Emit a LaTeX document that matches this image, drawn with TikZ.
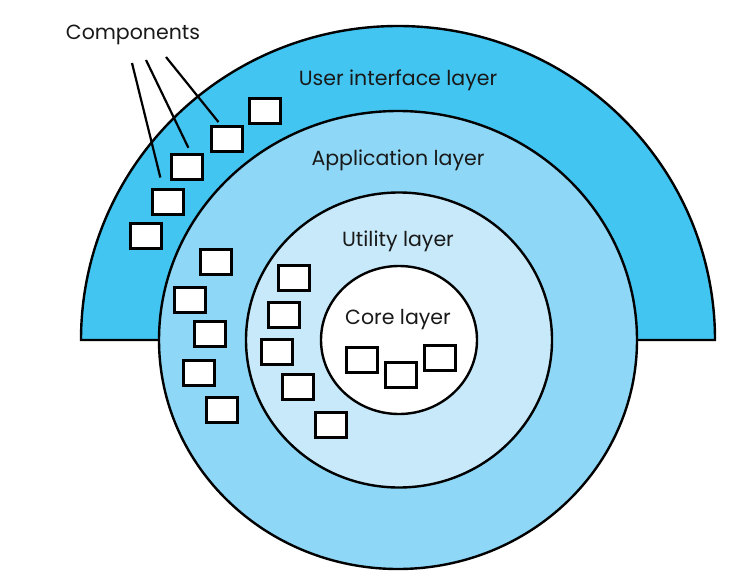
\documentclass[tikz,border=0pt]{standalone}
\usepackage{fontspec}
\setmainfont{Poppins}
\usetikzlibrary{positioning,shapes.geometric}
\definecolor{uiblue}{RGB}{66,197,241}
\definecolor{appblue}{RGB}{142,215,246}
\definecolor{utilblue}{RGB}{199,233,250}
\tikzstyle{layer}=[draw,ellipse,line width=2.4pt,inner sep=0pt]
\tikzstyle{comp}=[draw,fill=white,line width=2.6pt,minimum width=31pt,minimum height=25pt,inner sep=0pt]
\tikzstyle{lbl}=[font=\fontsize{20.5}{24}\selectfont,text=black!90]

\begin{document}
\begin{tikzpicture}[x=1pt,y=-1pt]
\useasboundingbox (0,0) rectangle (738,578);
% outer half disc
\filldraw[fill=uiblue,line width=2.4pt] (81,340) arc[start angle=180,end angle=360,x radius=317,y radius=314] -- cycle;
\node[layer,fill=appblue,minimum width=478pt,minimum height=458pt] (app) at (398,340) {};
\node[layer,fill=utilblue,minimum width=306pt,minimum height=295pt] (util) at (399,340) {};
\node[layer,fill=white,minimum width=156pt,minimum height=148pt] (core) at (399,340) {};

% layer names
\node[lbl] (uilbl) at (398,80) {User interface layer};
\node[lbl] (applbl) at (398,160) {Application layer};
\node[lbl] (utillbl) at (398,241) {Utility layer};
\node[lbl] (corelbl) at (398,320) {Core layer};
\node[lbl] (complbl) at (133,35) {Components};

% components
\foreach \n/\x/\y in {u1/265/111,u2/227/139,u3/187/167,u4/168/202,u5/146/236,
                      a1/216/262,a2/190/300,a3/210/334,a4/199/373,a5/222/410,
                      t1/294/278,t2/284/315,t3/277/352,t4/298/387,t5/331/425,
                      k1/362/360,k2/401/375,k3/440/358}
  \node[comp] (\n) at (\x,\y) {};

\coordinate (s1) at (132,63);
\coordinate (s2) at (146,60);
\coordinate (s3) at (166,57);
\draw[line width=2.2pt,shorten >=11pt] (s1) -- ([xshift=-5pt]u4.north);
\draw[line width=2.2pt,shorten >=6pt] (s2) -- ([xshift=4pt]u3.north);
\draw[line width=2.2pt,shorten >=4pt] (s3) -- ([xshift=-6pt]u2.north);
\end{tikzpicture}
\end{document}
